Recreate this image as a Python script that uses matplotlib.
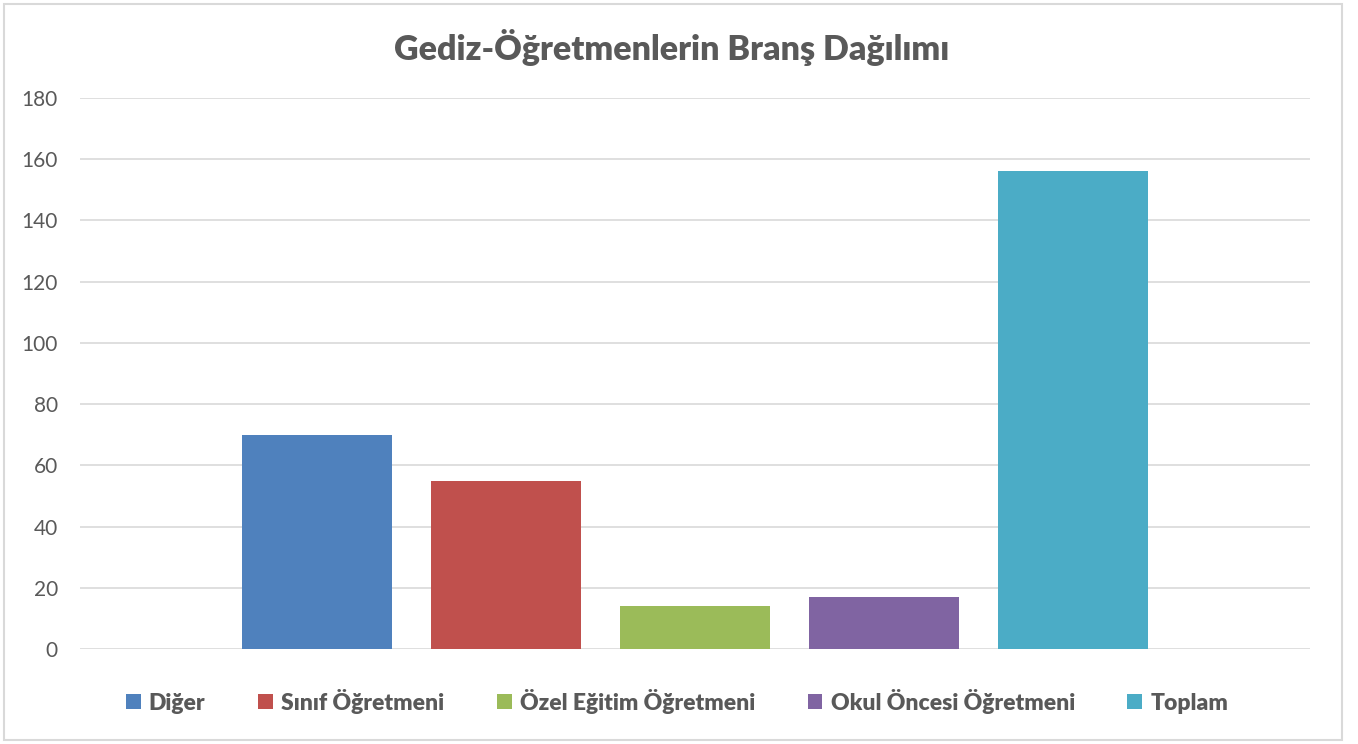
import matplotlib
matplotlib.use("Agg")
import matplotlib.pyplot as plt
from matplotlib.patches import Rectangle, Patch
import numpy as np

series = ["Diğer", "Sınıf Öğretmeni", "Özel Eğitim Öğretmeni", "Okul Öncesi Öğretmeni", "Toplam"]
values = [70, 55, 14, 17, 156]
colors = ["#4f81bd", "#c0504d", "#9bbb59", "#8064a2", "#4bacc6"]
yticks = [0, 20, 40, 60, 80, 100, 120, 140, 160, 180]
title = "Gediz-Öğretmenlerin Branş Dağılımı"

plt.rcParams['font.family'] = ['Lato', 'DejaVu Sans']
W, H = 1358, 744
fig = plt.figure(figsize=(W/100, H/100), dpi=100)
fig.patches.append(Rectangle((4/W, 4/H), (1342-4)/W, (740-4)/H, transform=fig.transFigure,
                             fill=False, edgecolor="#d9d9d9", linewidth=1.5))

ax = fig.add_axes([80/W, (H-649)/H, (1310-80)/W, (649-98)/H])
step = 0.1537
width = 0.122
n = len(series)
for i, (s, v, c) in enumerate(zip(series, values, colors)):
    x = (i - (n-1)/2) * step
    ax.bar(x, v, width=width, color=c, label=s, zorder=3)

ax.set_xlim(-0.5, 0.5)
ax.set_ylim(0, 180)
ax.set_yticks(yticks)
ax.set_xticks([])
ax.grid(axis='y', color="#d9d9d9", linewidth=1.2, zorder=0)
for sp in ax.spines.values():
    sp.set_visible(False)
ax.tick_params(axis='y', length=0, pad=16, labelsize=15, labelcolor="#595959")

fig.text(672/W, (H-47)/H, title, ha='center', va='center', fontsize=24.5, fontweight='heavy', color="#595959")

handles = [Patch(facecolor=c, edgecolor='none') for c in colors]
leg = fig.legend(handles, series, loc='center', bbox_to_anchor=(677/W, (H-701)/H), ncol=5,
                 frameon=False, handlelength=0.65, handleheight=0.65, handletextpad=0.35,
                 columnspacing=2.3, prop={'size': 16.5, 'weight': 'heavy'})
for t in leg.get_texts():
    t.set_color("#595959")

fig.savefig("out.png", dpi=100)
